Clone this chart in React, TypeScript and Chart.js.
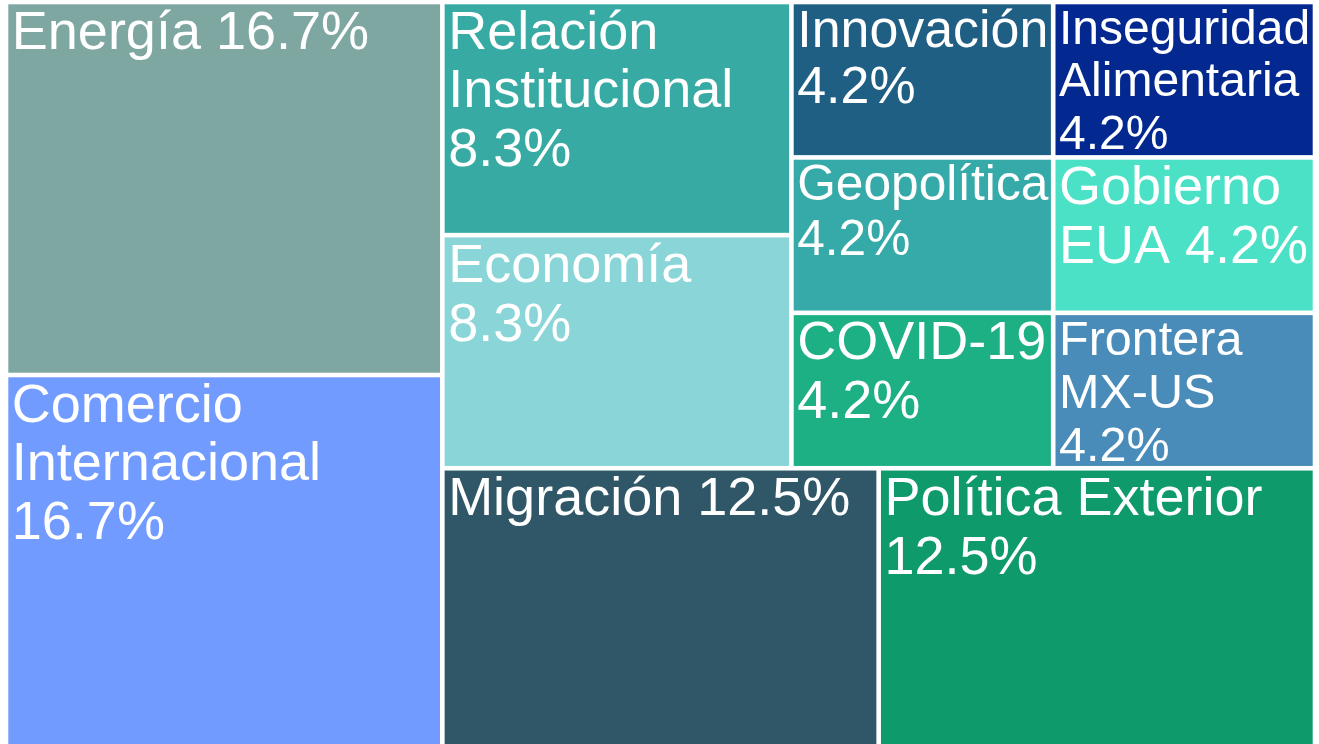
import React, { useEffect, useRef } from "react";
import { Chart, registerables } from "chart.js";

Chart.register(...registerables);

// ---- data ----
const categories: string[] = [
  "Comercio Internacional",
  "Energía",
  "Migración",
  "Política Exterior",
  "Economía",
  "Relación Institucional",
  "COVID-19",
  "Frontera MX-US",
  "Geopolítica",
  "Gobierno EUA",
  "Innovación",
  "Inseguridad Alimentaria",
];
const counts: number[] = [4, 4, 3, 3, 2, 2, 1, 1, 1, 1, 1, 1];
const cellColors: string[] = [
  "#719BFF",
  "#7EA7A1",
  "#2F5767",
  "#0E9A6B",
  "#8AD5D8",
  "#36AAA3",
  "#1EB085",
  "#4A8CB9",
  "#36A9A9",
  "#4AE1C7",
  "#1F5F84",
  "#032990",
];

type Cell = { i: number; x0: number; y0: number; x1: number; y1: number };

// squarified treemap (d3 algorithm, ratio 1) in a unit square, y pointing up
function squarify(values: number[]): Cell[] {
  const cells: Cell[] = [];
  let x0 = 0, y0 = 0, x1 = 1, y1 = 1;
  let value = values.reduce((a, b) => a + b, 0);
  const n = values.length;
  let i0 = 0, i1 = 0;
  while (i0 < n) {
    const dx = x1 - x0, dy = y1 - y0;
    let sumValue = values[i1++];
    let minV = sumValue, maxV = sumValue;
    const alpha = Math.max(dy / dx, dx / dy) / value;
    let beta = sumValue * sumValue * alpha;
    let minRatio = Math.max(maxV / beta, beta / minV);
    for (; i1 < n; ++i1) {
      const v = values[i1];
      sumValue += v;
      if (v < minV) minV = v;
      if (v > maxV) maxV = v;
      beta = sumValue * sumValue * alpha;
      const nr = Math.max(maxV / beta, beta / minV);
      if (nr > minRatio) {
        sumValue -= v;
        break;
      }
      minRatio = nr;
    }
    if (dx < dy) {
      const ny = y0 + (dy * sumValue) / value;
      let cx = x0;
      for (let k = i0; k < i1; k++) {
        const w = (dx * values[k]) / sumValue;
        cells.push({ i: k, x0: cx, x1: cx + w, y0: y0, y1: ny });
        cx += w;
      }
      y0 = ny;
    } else {
      const nx = x0 + (dx * sumValue) / value;
      let cy = y0;
      for (let k = i0; k < i1; k++) {
        const h = (dy * values[k]) / sumValue;
        cells.push({ i: k, x0: x0, x1: nx, y0: cy, y1: cy + h });
        cy += h;
      }
      x0 = nx;
    }
    value -= sumValue;
    i0 = i1;
  }
  return cells;
}

const FONT_FAMILY = 'Arial, "Liberation Sans", Helvetica, sans-serif';
const BASE_SIZE = 54;
const GAP = 2.3;

function wrapWords(ctx: CanvasRenderingContext2D, text: string, maxW: number): string[] {
  const words = text.split(" ");
  const lines: string[] = [];
  let cur = "";
  for (const w of words) {
    const test = cur ? cur + " " + w : w;
    if (!cur || ctx.measureText(test).width <= maxW) {
      cur = test;
    } else {
      lines.push(cur);
      cur = w;
    }
  }
  if (cur) lines.push(cur);
  return lines;
}

const treemapPlugin = {
  id: "treemapCells",
  afterDatasetsDraw(chart: any) {
    const ctx: CanvasRenderingContext2D = chart.ctx;
    const xs = chart.scales.x;
    const ys = chart.scales.y;
    const total = counts.reduce((a, b) => a + b, 0);
    const cells = squarify(counts);
    ctx.save();
    for (const c of cells) {
      const left = xs.getPixelForValue(c.x0) + GAP;
      const right = xs.getPixelForValue(c.x1) - GAP;
      const top = ys.getPixelForValue(c.y1) + GAP;
      const bottom = ys.getPixelForValue(c.y0) - GAP;
      const w = right - left;
      const h = bottom - top;
      ctx.fillStyle = cellColors[c.i];
      ctx.fillRect(left, top, w, h);

      const pct = ((counts[c.i] / total) * 100).toFixed(1) + "%";
      const label = categories[c.i] + " " + pct;
      ctx.font = `${BASE_SIZE}px ${FONT_FAMILY}`;
      const lines = wrapWords(ctx, label, w - 6);
      let maxLine = 0;
      for (const l of lines) maxLine = Math.max(maxLine, ctx.measureText(l).width);
      let size = BASE_SIZE;
      size = Math.min(size, (BASE_SIZE * (w - 6)) / maxLine);
      size = Math.min(size, (h + 8) / (lines.length * 1.09));

      ctx.save();
      ctx.beginPath();
      ctx.rect(left, top, w, h);
      ctx.clip();
      ctx.font = `${size}px ${FONT_FAMILY}`;
      ctx.fillStyle = "#ffffff";
      ctx.textBaseline = "alphabetic";
      ctx.textAlign = "left";
      lines.forEach((l, k) => {
        ctx.fillText(l, left + 3.5, top + 0.82 * size + k * 1.09 * size);
      });
      ctx.restore();
    }
    ctx.restore();
  },
};

export default function App() {
  const canvasRef = useRef<HTMLCanvasElement | null>(null);

  useEffect(() => {
    if (!canvasRef.current) return;
    const cells = squarify(counts);
    const chart = new Chart(canvasRef.current, {
      type: "scatter",
      data: {
        datasets: [
          {
            label: "Temas",
            data: cells.map((c) => ({ x: (c.x0 + c.x1) / 2, y: (c.y0 + c.y1) / 2 })),
            pointRadius: 0,
            pointHoverRadius: 0,
          },
        ],
      },
      options: {
        animation: false,
        responsive: false,
        events: [],
        layout: { padding: { left: 6, top: 2, right: 4, bottom: 2 } },
        scales: {
          x: { type: "linear", min: 0, max: 1, display: false },
          y: { type: "linear", min: 0, max: 1, display: false },
        },
        plugins: {
          legend: { display: false },
          tooltip: { enabled: false },
          title: { display: false },
        },
      },
      plugins: [treemapPlugin],
    });
    return () => chart.destroy();
  }, []);

  return (
    <div
      style={{
        position: "fixed",
        left: 0,
        top: 0,
        width: 1319,
        height: 750,
        background: "#ffffff",
        overflow: "hidden",
      }}
    >
      <canvas ref={canvasRef} width={1319} height={750} style={{ display: "block" }} />
    </div>
  );
}
